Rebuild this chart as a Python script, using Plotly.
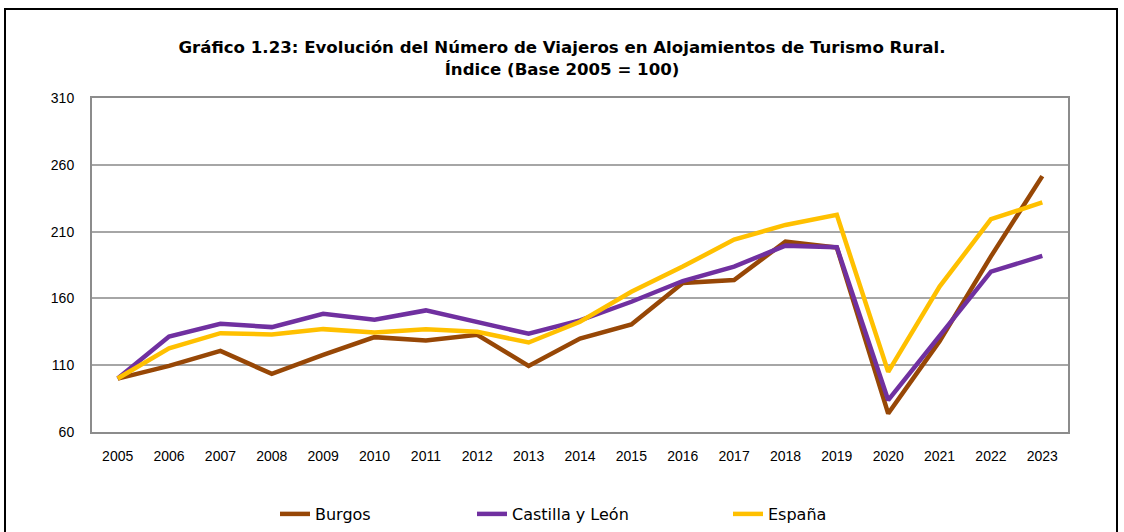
import plotly.graph_objects as go

years = [str(y) for y in range(2005, 2024)]
burgos = [100, 109.5, 120.7, 103.5, 117.7, 131, 128.5, 132.7, 109.5, 130, 140.5, 171.5, 173.8, 202.5, 198, 73.8, 128, 191.5, 251.5]
cyl = [100, 131.5, 141, 138.5, 148.5, 144, 151, 142, 133.5, 143.5, 157.5, 173, 183.8, 199.5, 198.3, 83.8, 132, 180, 191.8]
espana = [100, 122.7, 134, 133, 137, 134.5, 137, 135, 127, 142.5, 165, 183.8, 204, 215, 222.5, 105, 168.8, 219.3, 231.8]

series = [("Burgos", burgos, "#974706", "legend"),
          ("Castilla y León", cyl, "#7030A0", "legend2"),
          ("España", espana, "#FFC000", "legend3")]

W, H = 1124, 532
ML, MR, MT, MB = 92, 56, 98, 100
PW, PH = W - ML - MR, H - MT - MB

fig = go.Figure()
for name, vals, col, lg in series:
    fig.add_trace(go.Scatter(x=years, y=vals, mode="lines", name=name,
                             line=dict(color=col, width=4.5), legend=lg,
                             showlegend=True))

def px2x(px):
    return (px - ML) / PW

def px2y(py):
    return (H - MB - py) / PH

legfont = dict(family="DejaVu Sans", size=16, color="#000000")
leg_common = dict(orientation="h", yanchor="middle", xanchor="left",
                  xref="container", yref="container",
                  y=1 - 514 / H, font=legfont, bgcolor="rgba(0,0,0,0)",
                  itemwidth=30, visible=True)

fig.update_layout(
    width=W, height=H, showlegend=True,
    margin=dict(l=ML, r=MR, t=MT, b=MB, autoexpand=False),
    paper_bgcolor="white", plot_bgcolor="white",
    title=dict(text="<b>Gráfico 1.23: Evolución del Número de Viajeros en Alojamientos de Turismo Rural.<br>Índice (Base 2005 = 100)</b>",
               x=562 / W, xanchor="center", xref="container", y=1 - 53 / H, yanchor="middle",
               font=dict(family="DejaVu Sans", size=16.6, color="#000000")),
    legend=dict(x=275 / W, **leg_common),
    legend2=dict(x=472 / W, **leg_common),
    legend3=dict(x=728 / W, **leg_common),
    xaxis=dict(type="category", range=[-0.5, 18.5], showgrid=False,
               showline=True, linecolor="#8C8C8C", linewidth=2, mirror=True,
               ticks="", ticklabelstandoff=10,
               tickfont=dict(family="Liberation Sans, Arial", size=14, color="#000000")),
    yaxis=dict(range=[60, 310], tickvals=[60, 110, 160, 210, 260, 310],
               showgrid=True, gridcolor="#A6A6A6", gridwidth=1.5,
               showline=True, linecolor="#8C8C8C", linewidth=2, mirror=True,
               zeroline=False, ticks="", ticklabelstandoff=13,
               tickfont=dict(family="Liberation Sans, Arial", size=14, color="#000000")),
    shapes=[dict(type="rect", xref="paper", yref="paper",
                 x0=px2x(5), x1=px2x(1117), y0=px2y(560), y1=px2y(9),
                 line=dict(color="black", width=2), fillcolor="rgba(0,0,0,0)", layer="below")],
)

fig.write_html("out.html", config={"displayModeBar": False},
               post_script="document.body.style.margin='0';document.body.style.overflow='hidden';")
